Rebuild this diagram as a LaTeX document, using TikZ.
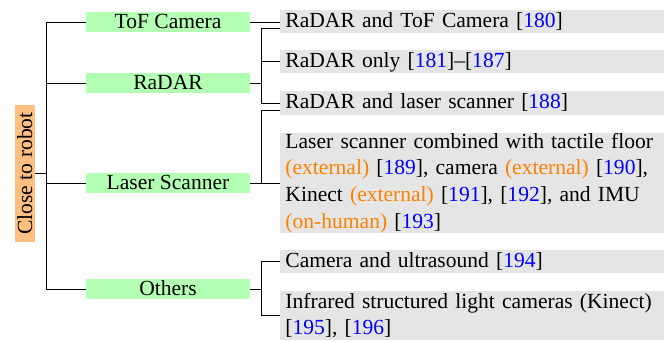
\documentclass[tikz,border=0pt]{standalone}
\usepackage{fontspec}
\setmainfont{Liberation Serif}
\definecolor{rootc}{RGB}{255,191,128}
\definecolor{catc}{RGB}{179,255,179}
\definecolor{leafc}{RGB}{229,229,229}
\definecolor{extc}{RGB}{255,128,0}
\newcommand\refn[1]{\textcolor{blue}{#1}}
\newcommand\ext[1]{\textcolor{extc}{#1}}
\begin{document}
\begin{tikzpicture}[x=0.45pt,y=-0.45pt, font=\fontsize{9.7}{12}\selectfont,
 rootbox/.style={fill=rootc, rotate=90, minimum width=61.65pt, minimum height=9pt, inner sep=0pt, text height=7.7pt, text depth=1.3pt},
 catbox/.style={fill=catc, minimum width=73.8pt, minimum height=9pt, inner sep=0pt, text height=7.3pt, text depth=1.7pt},
 leafbox/.style={fill=leafc, anchor=west, text width=168.3pt, inner xsep=2.25pt, inner ysep=0pt, align=left},
 leafone/.style={leafbox, text height=7.8pt, text depth=2.6pt},
 link/.style={line width=0.45pt}]
\useasboundingbox (0,0) rectangle (664,341);
\node[rootbox] (root) at (25,173.5) {Close to robot};
\node[catbox] (tof) at (168,22) {ToF Camera};
\node[catbox] (radar) at (168,83) {RaDAR};
\node[catbox] (laser) at (168,183) {Laser Scanner};
\node[catbox] (others) at (168,289) {Others};
\node[leafone] (l1) at (280,21.5) {RaDAR and ToF Camera [\refn{180}]};
\node[leafone] (l2) at (280,61.5) {RaDAR only [\refn{181}]--[\refn{187}]};
\node[leafone] (l3) at (280,103) {RaDAR and laser scanner [\refn{188}]};
\node[leafbox, minimum height=45pt] (l4) at (280,183) {\mbox{Laser scanner combined with tactile floor}\\ \mbox{\ext{(external)} [\refn{189}], camera \ext{(external)} [\refn{190}],}\\ \mbox{Kinect \ext{(external)} [\refn{191}], [\refn{192}], and IMU}\\ \mbox{\ext{(on-human)} [\refn{193}]}};
\node[leafone] (l5) at (280,261.5) {Camera and ultrasound [\refn{194}]};
\node[leafbox, minimum height=22pt] (l6) at (280,315.5) {\mbox{Infrared structured light cameras (Kinect)}\\{}[\refn{195}], [\refn{196}]};
\coordinate (jt) at (46,173.5);
\draw[link] (root.south) -- (jt);
\draw[link] (jt) |- (tof.west);
\draw[link] (jt) |- (radar.west);
\draw[link] (jt) |- (laser.west);
\draw[link] (jt) |- (others.west);
\draw[link] (tof.east) -- (tof.east -| l1.west);
\coordinate (jr) at (261,83);
\coordinate (r1) at (280,28);
\draw[link] (radar.east) -- (jr);
\draw[link] (jr) |- (r1);
\draw[link] (jr) |- (l2.west);
\draw[link] (jr) |- (l3.west);
\coordinate (jl) at (261,183);
\coordinate (s1) at (280,110);
\draw[link] (laser.east) -- (l4.west);
\draw[link] (jl) |- (s1);
\coordinate (jo) at (261,289);
\draw[link] (others.east) -- (jo);
\draw[link] (jo) |- (l5.west);
\draw[link] (jo) |- (l6.west);
\end{tikzpicture}
\end{document}
